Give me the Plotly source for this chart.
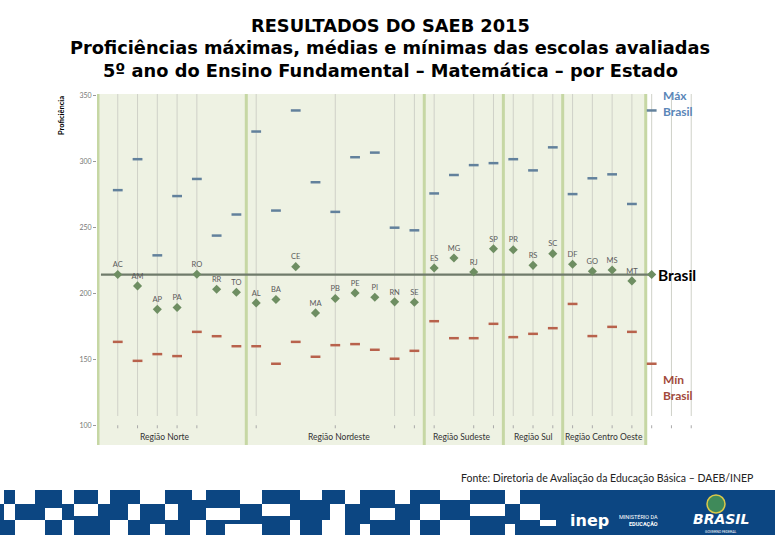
import plotly.graph_objects as go

# ---------------- data ----------------
states = ["AC", "AM", "AP", "PA", "RO", "RR", "TO",
          "AL", "BA", "CE", "MA", "PB", "PE", "PI", "RN", "SE",
          "ES", "MG", "RJ", "SP",
          "PR", "RS", "SC",
          "DF", "GO", "MS", "MT"]
max_vals = [278.5, 302, 229, 274, 287, 244, 260,
            323, 263, 339, 284.5, 262, 303.5, 307, 250, 248,
            276, 290, 297.5, 299,
            302, 293.5, 311,
            275.5, 287.5, 290.5, 268]
mean_vals = [214.4, 205.8, 188, 189.4, 214.6, 203.3, 201,
             192.9, 195.5, 220.4, 185.3, 196.2, 200.5, 197.2, 193.7, 193.4,
             219.4, 227, 216.4, 234,
             233.3, 221.4, 230.3,
             222.2, 216.9, 217.9, 209.6]
min_vals = [163.3, 148.9, 154, 152.5, 170.9, 167.6, 160,
            160, 146.7, 163.3, 152, 160.8, 161.6, 157.3, 150.5, 156.5,
            179, 166.1, 166.1, 177,
            166.9, 169.4, 173.7,
            192.1, 167.7, 174.7, 170.9]
brasil_max = 339
brasil_mean = 214.4
brasil_min = 146.7
regions = ["Região Norte", "Região Nordeste", "Região Sudeste", "Região Sul", "Região Centro Oeste"]
region_sizes = [7, 9, 4, 3, 4]
y_ticks = [100, 150, 200, 250, 300, 350]
# states whose guide line is drawn in the reference
guide_states = ["AC", "AM", "AP", "PA", "RO", "AL", "PB", "RN", "SE", "ES", "RJ", "SP",
                "PR", "RS", "SC", "DF", "GO", "MS", "MT"]

# ---------------- layout constants ----------------
W, H = 780, 540
ML, MR, MT_, MB = 97, 69, 94, 95
PW, PH = W - ML - MR, H - MT_ - MB


def px(x):
    return (x - ML) / PW


def py(y):
    return (H - MB - y) / PH


xs = list(range(len(states)))
xb = len(states)  # Brasil position

MAX_C = "#62819c"
MIN_C = "#b8624c"
MEAN_C = "#6e8e62"
BAND_C = "#eef2e3"
SEP_C = "#c6d7a4"
GRID_C = "#cfd1c8"

fig = go.Figure()

shapes = []
# green band
shapes.append(dict(type="rect", xref="x", yref="paper", x0=-1, x1=26.7, y0=0, y1=1,
                   fillcolor=BAND_C, line_width=0, layer="below"))
# guide lines
for i, s in enumerate(states + ["Brasil", "", ""]):
    if s in guide_states or s == "Brasil" or s == "":
        shapes.append(dict(type="line", xref="x", yref="y", x0=i, x1=i, y0=107, y1=351.5,
                           line=dict(color=GRID_C, width=1), layer="below"))
        shapes.append(dict(type="line", xref="x", yref="y", x0=i, x1=i, y0=97.7, y1=100,
                           line=dict(color="#aaaaaa", width=1), layer="below"))
# region separators
edges = [-1]
acc = 0
for n in region_sizes:
    acc += n
    edges.append(acc - 0.5)
edges[-1] = 26.7
for e in edges:
    shapes.append(dict(type="line", xref="x", yref="paper", x0=e, x1=e, y0=0, y1=1,
                       line=dict(color=SEP_C, width=3), layer="below"))

# ---------------- banner ----------------
BLUE = "#0c4682"
shapes.append(dict(type="rect", xref="paper", yref="paper", x0=px(0), x1=px(775),
                   y0=py(535), y1=py(490), fillcolor=BLUE, line_width=0, layer="above"))
white_rects = [
    (0, 4, 490, 504),
    (15, 35, 490, 504), (62, 74, 490, 504), (98, 110, 490, 504), (140, 165, 490, 504),
    (192, 206, 490, 500), (240, 262, 490, 504), (300, 322, 490, 500), (345, 360, 490, 504),
    (395, 410, 490, 504), (440, 470, 490, 500), (505, 520, 490, 504),
    (4, 15, 504, 520), (45, 62, 508, 520), (74, 98, 504, 516), (128, 140, 504, 520),
    (165, 178, 504, 520), (206, 240, 508, 520), (262, 290, 504, 516), (330, 345, 504, 520),
    (370, 395, 508, 520), (420, 440, 504, 520), (470, 505, 504, 516), (520, 540, 504, 520),
    (15, 45, 520, 535), (62, 74, 520, 535), (110, 128, 520, 535), (150, 165, 524, 535),
    (190, 206, 520, 535), (225, 262, 524, 535), (290, 300, 520, 535), (322, 345, 520, 535),
    (360, 370, 524, 535), (410, 420, 520, 535), (440, 470, 520, 535), (505, 515, 524, 535),
    (540, 556, 520, 526),
]
for x0, x1, y0, y1 in white_rects:
    shapes.append(dict(type="rect", xref="paper", yref="paper", x0=px(x0), x1=px(x1),
                       y0=py(y1), y1=py(y0), fillcolor="white", line_width=0, layer="above"))
# globe
shapes.append(dict(type="circle", xref="paper", yref="paper", x0=px(707), x1=px(725),
                   y0=py(513), y1=py(495), fillcolor="#3f8a5a", line=dict(color="#d9c84a", width=1.5),
                   layer="above"))

# ---------------- traces ----------------
# Brasil mean line
fig.add_trace(go.Scatter(x=[-0.85, xb], y=[brasil_mean, brasil_mean], mode="lines",
                         line=dict(color="#6f7b6b", width=2.2), hoverinfo="skip", showlegend=False))
fig.add_trace(go.Scatter(x=xs + [xb], y=max_vals + [brasil_max], mode="markers",
                         marker=dict(symbol="line-ew", size=7, line=dict(color=MAX_C, width=2.5)),
                         showlegend=False, name="Máx"))
fig.add_trace(go.Scatter(x=xs + [xb], y=min_vals + [brasil_min], mode="markers",
                         marker=dict(symbol="line-ew", size=7, line=dict(color=MIN_C, width=2.5)),
                         showlegend=False, name="Mín"))
fig.add_trace(go.Scatter(x=xs, y=mean_vals, mode="markers+text", text=states,
                         textposition="top center",
                         textfont=dict(family="Lato", size=7.5, color="#5a5a5a"),
                         marker=dict(symbol="diamond", size=7, color=MEAN_C),
                         showlegend=False, name="Média"))
fig.add_trace(go.Scatter(x=[xb], y=[brasil_mean], mode="markers",
                         marker=dict(symbol="diamond", size=7, color=MEAN_C),
                         showlegend=False, name="Brasil"))

# ---------------- annotations ----------------
ann = []
titles = ["RESULTADOS DO SAEB 2015",
          "Proficiências máximas, médias e mínimas das escolas avaliadas",
          "5º ano do Ensino Fundamental – Matemática – por Estado"]
for t, yy in zip(titles, [25, 47, 70]):
    ann.append(dict(text="<b>" + t + "</b>", xref="paper", yref="paper", x=px(390), y=py(yy),
                    xanchor="center", yanchor="middle", showarrow=False,
                    font=dict(family="DejaVu Sans", size=17.8, color="black")))
ann.append(dict(text="<b>Proficiência</b>", xref="paper", yref="paper", x=px(62), y=py(116),
                textangle=-90, showarrow=False, xanchor="center", yanchor="middle",
                font=dict(family="Lato", size=7.5, color="black")))
region_pos = [2.4, 11.2, 17.4, 21.0, 24.6]
for r, xp in zip(regions, region_pos):
    ann.append(dict(text=r, xref="x", yref="paper", x=xp, y=py(437), showarrow=False,
                    xanchor="center", yanchor="middle",
                    font=dict(family="Lato", size=8.5, color="#333333")))
ann.append(dict(text="<b>Máx<br>Brasil</b>", xref="x", yref="paper", x=27.45, y=py(104),
                xanchor="left", yanchor="middle", align="left", showarrow=False,
                font=dict(family="Lato", size=12, color="#5a86b8")))
ann.append(dict(text="<b>Mín<br>Brasil</b>", xref="x", yref="paper", x=27.45, y=py(387),
                xanchor="left", yanchor="middle", align="left", showarrow=False,
                font=dict(family="Lato", size=12, color="#a24a3b")))
ann.append(dict(text="<b>Brasil</b>", xref="x", yref="y", x=xb + 0.2, y=brasil_mean,
                xanchor="left", yanchor="middle", showarrow=False,
                font=dict(family="Lato", size=15.5, color="black")))
ann.append(dict(text="Fonte: Diretoria de Avaliação da Educação Básica – DAEB/INEP",
                xref="paper", yref="paper", x=px(607), y=py(478), xanchor="center",
                yanchor="middle", showarrow=False,
                font=dict(family="Lato", size=10.5, color="#222222")))
# banner logos
ann.append(dict(text="<b>inep</b>", xref="paper", yref="paper", x=px(589), y=py(520),
                xanchor="center", yanchor="middle", showarrow=False,
                font=dict(family="DejaVu Sans", size=16, color="white")))
ann.append(dict(text="MINISTÉRIO DA<br><b>EDUCAÇÃO</b>", xref="paper", yref="paper",
                x=px(660), y=py(520), xanchor="right", yanchor="middle", align="right",
                showarrow=False, font=dict(family="Roboto", size=5.5, color="white")))
ann.append(dict(text="<b><i>BRASIL</i></b>", xref="paper", yref="paper", x=px(721), y=py(519),
                xanchor="center", yanchor="middle", showarrow=False,
                font=dict(family="DejaVu Sans", size=14, color="white")))
ann.append(dict(text="GOVERNO FEDERAL", xref="paper", yref="paper", x=px(721), y=py(531.5),
                xanchor="center", yanchor="middle", showarrow=False,
                font=dict(family="Roboto", size=3.5, color="white")))

fig.update_layout(
    width=W, height=H, autosize=False,
    margin=dict(l=ML, r=MR, t=MT_, b=MB, pad=0),
    paper_bgcolor="white", plot_bgcolor="white",
    shapes=shapes, annotations=ann,
    xaxis=dict(range=[-1.05, 30], showgrid=False, zeroline=False, showticklabels=False,
               ticks="", showline=False, fixedrange=True),
    yaxis=dict(range=[85, 351.5], tickvals=y_ticks, showgrid=False, zeroline=False,
               ticks="outside", ticklen=3, tickcolor="#999999", showline=False,
               tickfont=dict(family="Lato", size=7, color="#777777"), fixedrange=True),
    font=dict(family="Lato"),
)

fig.write_html("out.html")
